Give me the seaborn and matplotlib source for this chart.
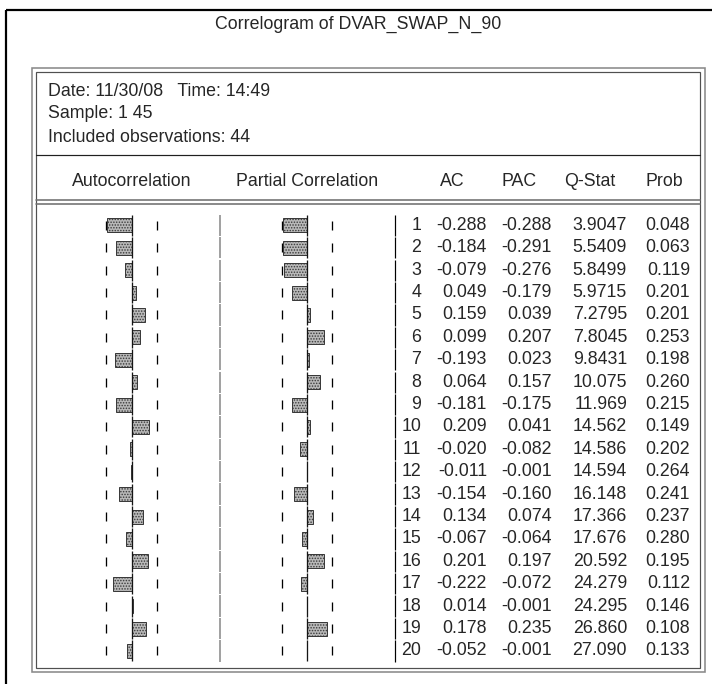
import numpy as np
import pandas as pd
import matplotlib
matplotlib.use("Agg")
import matplotlib.pyplot as plt
import seaborn as sns

# ---------------- data ----------------
series_name = "DVAR_SWAP_N_90"
date_str = "11/30/08"
time_str = "14:49"
sample_str = "1 45"
n_obs = 44
lags = list(range(1, 21))
ac = [-0.288, -0.184, -0.079, 0.049, 0.159, 0.099, -0.193, 0.064, -0.181, 0.209,
      -0.020, -0.011, -0.154, 0.134, -0.067, 0.201, -0.222, 0.014, 0.178, -0.052]
pac = [-0.288, -0.291, -0.276, -0.179, 0.039, 0.207, 0.023, 0.157, -0.175, 0.041,
       -0.082, -0.001, -0.160, 0.074, -0.064, 0.197, -0.072, -0.001, 0.235, -0.001]
qstat = [3.9047, 5.5409, 5.8499, 5.9715, 7.2795, 7.8045, 9.8431, 10.075, 11.969, 14.562,
         14.586, 14.594, 16.148, 17.366, 17.676, 20.592, 24.279, 24.295, 26.860, 27.090]
prob = [0.048, 0.063, 0.119, 0.201, 0.201, 0.253, 0.198, 0.260, 0.215, 0.149,
        0.202, 0.264, 0.241, 0.237, 0.280, 0.195, 0.112, 0.146, 0.108, 0.133]
col_headers = ["AC", "PAC", "Q-Stat", "Prob"]

# ---------------- style ----------------
sns.set_theme(style="white")
plt.rcParams["font.family"] = ["Liberation Sans", "DejaVu Sans"]
plt.rcParams["hatch.linewidth"] = 0.7
FS = 12.8

W, H = 712, 684
fig = plt.figure(figsize=(W / 100, H / 100), dpi=100)
fig.patch.set_facecolor("white")

bg = fig.add_axes([0, 0, 1, 1])
bg.set_xlim(0, W)
bg.set_ylim(H, 0)
bg.axis("off")

PX = 72 / 100  # points per pixel


def px_axes(left, top, width, height):
    return fig.add_axes([left / W, 1 - (top + height) / H, width / W, height / H])


# outer frame (top + left heavy lines)
bg.plot([6, W], [10, 10], color="black", lw=2.2 * PX, solid_capstyle="butt")
bg.plot([6, 6], [10, H], color="black", lw=2.2 * PX, solid_capstyle="butt")

# title
bg.text(358, 24, f"Correlogram of {series_name}", ha="center", va="center", fontsize=FS)

# inner double box
bg.add_patch(plt.Rectangle((32, 68), 705 - 32, 672 - 68, fill=False, ec="#8a8a8a", lw=1.6 * PX))
bg.add_patch(plt.Rectangle((36, 72), 700 - 36, 668 - 72, fill=False, ec="#505050", lw=1.2 * PX))

# info lines
bg.text(48, 92, f"Date: {date_str}   Time: {time_str}", ha="left", va="center", fontsize=FS)
bg.text(48, 114, f"Sample: {sample_str}", ha="left", va="center", fontsize=FS)
bg.text(48, 137, f"Included observations: {n_obs}", ha="left", va="center", fontsize=FS)
bg.plot([36, 700], [155, 155], color="#202020", lw=1.2 * PX)

# header
bg.text(131.5, 182, "Autocorrelation", ha="center", va="center", fontsize=FS)
bg.text(307.5, 182, "Partial Correlation", ha="center", va="center", fontsize=FS)
for h, xr in zip(col_headers, [465, 537, 615, 683]):
    bg.text(xr, 182, h, ha="right", va="center", fontsize=FS)
bg.plot([36, 700], [200, 200], color="#707070", lw=1.6 * PX)
bg.plot([36, 700], [204, 204], color="#707070", lw=1.6 * PX)

# row geometry
ROW0, ROWH = 225.3, 22.4
n = len(lags)
rows_y = [ROW0 + i * ROWH for i in range(n)]

# separators (segmented per row)
for y in rows_y:
    bg.plot([219.5, 219.5], [y - 10.6, y + 10.6], color="#8c8c8c", lw=1.6 * PX, solid_capstyle="butt")
    bg.plot([395, 395], [y - 10.6, y + 10.6], color="black", lw=1.2 * PX, solid_capstyle="butt")

# table text
for i in range(n):
    y = rows_y[i]
    bg.text(421.5, y, f"{lags[i]}", ha="right", va="center", fontsize=FS)
    bg.text(487, y, f"{ac[i]:.3f}", ha="right", va="center", fontsize=FS)
    bg.text(552, y, f"{pac[i]:.3f}", ha="right", va="center", fontsize=FS)
    bg.text(627, y, f"{qstat[i]:#.5g}", ha="right", va="center", fontsize=FS)
    bg.text(690, y, f"{prob[i]:.3f}", ha="right", va="center", fontsize=FS)

# bar panels
SCALE = 84  # px per unit correlation
bound = 2 / np.sqrt(n_obs)
df = pd.DataFrame({"lag": [str(l) for l in lags], "ac": ac, "pac": pac})
top_px = ROW0 - ROWH / 2
height_px = ROWH * n

for col, cx in [("ac", 131.5), ("pac", 307.0)]:
    ax = px_axes(cx - SCALE, top_px, 2 * SCALE, height_px)
    ax.patch.set_alpha(0)
    sns.barplot(data=df, x=col, y="lag", order=df["lag"].tolist(), orient="h",
                color="#b8b8b8", saturation=1, width=0.625, errorbar=None,
                edgecolor="#3a3a3a", linewidth=1.0 * PX, ax=ax, zorder=3)
    for p in ax.patches:
        p.set_hatch("......")
    for i in range(n):
        ax.vlines(0, i - 0.47, i + 0.47, color="#151515", lw=1.3 * PX, zorder=4)
        ax.vlines([-bound, bound], i - 0.2, i + 0.2, color="black", lw=1.3 * PX, zorder=2)
    ax.set_xlim(-1, 1)
    ax.set_ylim(n - 0.5, -0.5)
    ax.axis("off")

fig.savefig("out.png", dpi=100, facecolor="white")
